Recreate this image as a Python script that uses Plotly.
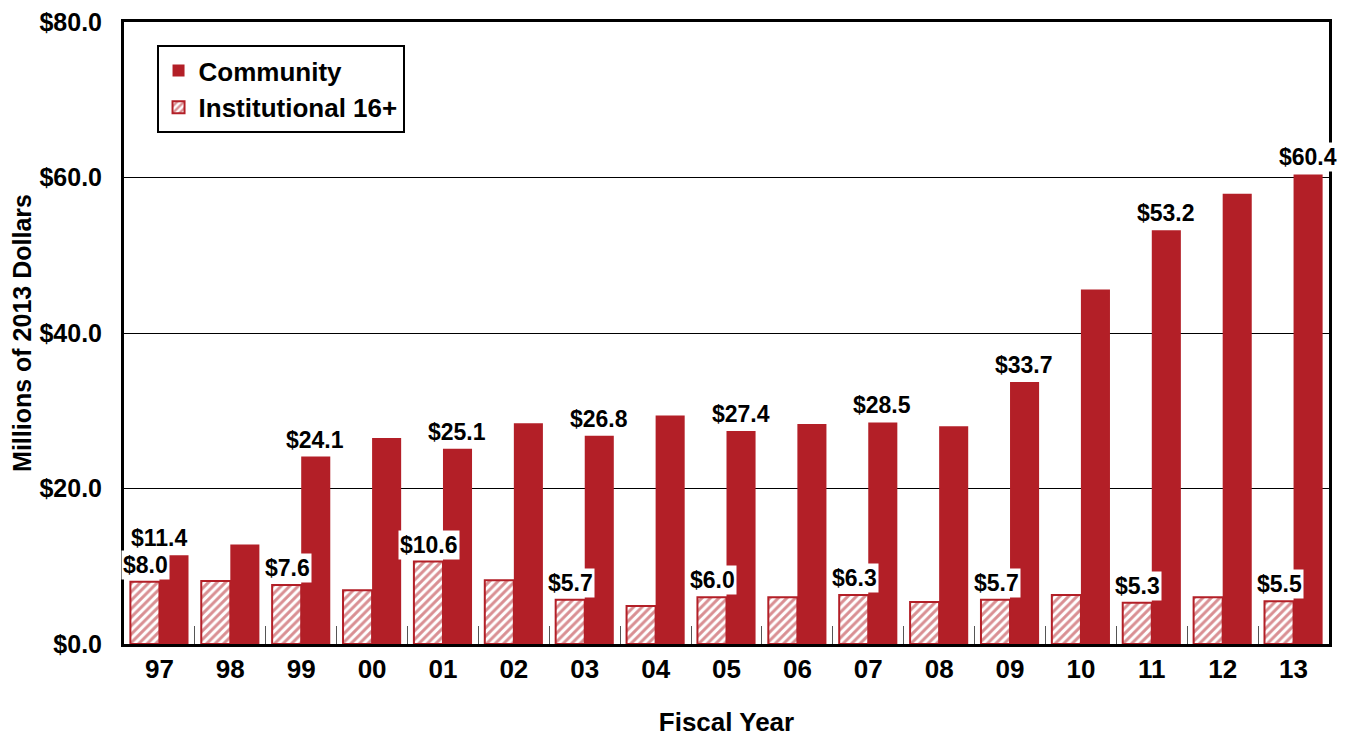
import plotly.graph_objects as go

years = ["97", "98", "99", "00", "01", "02", "03", "04", "05", "06", "07", "08", "09", "10", "11", "12", "13"]
community = [11.4, 12.8, 24.1, 26.5, 25.1, 28.4, 26.8, 29.4, 27.4, 28.3, 28.5, 28.0, 33.7, 45.6, 53.2, 57.9, 60.4]
institutional = [8.0, 8.1, 7.6, 6.9, 10.6, 8.2, 5.7, 4.9, 6.0, 6.0, 6.3, 5.4, 5.7, 6.3, 5.3, 6.0, 5.5]

RED = "#B31F27"
FONT = "Liberation Sans"

fig = go.Figure()
fig.add_trace(go.Bar(
    x=years, y=institutional, name="Institutional 16+",
    marker=dict(color="white", line=dict(color=RED, width=2),
                pattern=dict(shape="/", fgcolor=RED, bgcolor="white", size=6, solidity=0.5)),
))
fig.add_trace(go.Bar(
    x=years, y=community, name="Community",
    marker=dict(color=RED, line=dict(width=0)),
))

# value labels on every other year, white boxes behind text
# (x given as category index so "97" etc. are not read as numbers)
for i in range(0, len(years), 2):
    fig.add_annotation(x=i, y=institutional[i], text=f"${institutional[i]:.1f}",
                       xshift=-14, yshift=2, yanchor="bottom", showarrow=False,
                       bgcolor="white", borderpad=1,
                       font=dict(family=FONT, size=23, color="black", weight="bold"))
    fig.add_annotation(x=i, y=community[i], text=f"${community[i]:.1f}",
                       xshift=14 if i else 0, yshift=2, yanchor="bottom", showarrow=False,
                       bgcolor="white", borderpad=1,
                       font=dict(family=FONT, size=23, color="black", weight="bold"))

# page body has an 8px margin, so the figure is a bit smaller than the window
fig.update_layout(
    width=1344, height=730,
    margin=dict(l=116, r=23, t=14, b=94),
    paper_bgcolor="white", plot_bgcolor="white",
    barmode="group", bargap=0.18, bargroupgap=0,
    font=dict(family=FONT, color="black"),
    showlegend=True,
    legend=dict(x=0.027, y=0.963, xanchor="left", yanchor="top",
                traceorder="reversed",
                bordercolor="black", borderwidth=2, bgcolor="white",
                font=dict(family=FONT, size=26, color="black", weight="bold"),
                itemwidth=30, tracegroupgap=0),
)
fig.update_xaxes(
    type="category", range=[-0.5, len(years) - 0.5], automargin=False,
    title=dict(text="Fiscal Year", font=dict(family=FONT, size=26, weight="bold"), standoff=30),
    tickfont=dict(family=FONT, size=26, weight="bold"), tickangle=0,
    tickson="boundaries", ticks="inside", ticklen=18, tickcolor="#555555", tickwidth=1,
    showline=True, linecolor="black", linewidth=3, mirror=True,
    showgrid=False,
)
fig.update_yaxes(
    automargin=False, ticklabeloverflow="allow",
    title=dict(text="Millions of 2013 Dollars", font=dict(family=FONT, size=25, weight="bold"), standoff=10),
    range=[0, 80], tickvals=[0, 20, 40, 60, 80], tickformat="$.1f",
    tickfont=dict(family=FONT, size=25, weight="bold"),
    ticks="", ticklabelstandoff=14,
    showline=True, linecolor="black", linewidth=3, mirror=True,
    showgrid=True, gridcolor="black", gridwidth=1, zeroline=False,
)

fig.write_html("out.html")
